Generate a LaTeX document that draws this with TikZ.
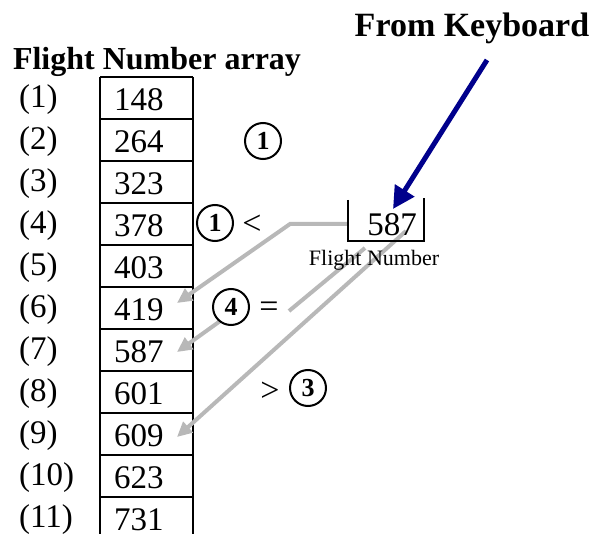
\documentclass[tikz,border=0pt]{standalone}
\usepackage{fontspec}
\setmainfont{Liberation Serif}
\usetikzlibrary{arrows.meta}
\definecolor{arrgray}{RGB}{184,184,184}
\definecolor{kbblue}{RGB}{0,0,140}
\begin{document}
\begin{tikzpicture}[x=1pt,y=-1pt,
  cell/.style={anchor=west,inner sep=0pt,font=\fontsize{33}{33}\selectfont},
  idx/.style={anchor=west,inner sep=0pt,font=\fontsize{33}{33}\selectfont},
  circnum/.style={circle,draw,line width=2pt,fill=white,minimum size=36pt,inner sep=0pt,font=\fontsize{26}{26}\selectfont\bfseries},
  sym/.style={inner sep=0pt,font=\fontsize{34}{34}\selectfont},
  garrow/.style={draw=arrgray,line width=4pt,-{Triangle[length=15pt,width=14pt,fill=arrgray]}},
  gline/.style={draw=arrgray,line width=4pt},
  tbl/.style={line width=2.2pt}]
\useasboundingbox (0,0) rectangle (596,534);
% titles
\node[anchor=base,inner sep=0pt,font=\fontsize{32}{32}\selectfont\bfseries] (title) at (157,70) {Flight Number array};
\node[anchor=base,inner sep=0pt,font=\fontsize{34}{34}\selectfont\bfseries] (kb) at (472,37) {From Keyboard};
% table
\draw[tbl] (100,77) -- (100,540);
\draw[tbl] (193,77) -- (193,540);
\foreach \k in {0,...,10} {\draw[tbl] (100,77+42*\k) -- (193,77+42*\k);}
\foreach \v [count=\i] in {148,264,323,378,403,419,587,601,609,623,731} {
  \node[cell] (v\i) at (114,100+42*\i-42) {\v};
  \node[idx] (i\i) at (19,100+42*\i-42) {(\i)};
}
% gray arrows
\coordinate (t6) at (177,303);
\coordinate (t7) at (177,352);
\coordinate (t9) at (177,437);
\coordinate (a1s) at (348,224);
\coordinate (a1b) at (290,224);
\coordinate (a2s) at (365,248);
\coordinate (a2e) at (289,311);
\coordinate (a2m) at (230,314);
\coordinate (a3s) at (406,231);
\draw[garrow] (a1s) -- (a1b) -- (t6);
\draw[gline] (a2s) -- (a2e);
\draw[garrow] (a2m) -- (t7);
\draw[garrow] (a3s) -- (t9);
% circled numbers and symbols
\node[circnum] (c1a) at (263,141) {1};
\node[circnum] (c1b) at (215,223) {1};
\node[sym] (lt) at (252,225) {<};
\node[circnum] (c4) at (231,307) {4};
\node[sym] (eq) at (269,310) {=};
\node[sym] (gt) at (270,392) {>};
\node[circnum] (c3) at (308,388) {3};
% input box
\draw[tbl] (348,200) -- (348,241) -- (424,241) -- (424,198);
\node[inner sep=0pt,font=\fontsize{33}{33}\selectfont] (in) at (392,225) {587};
\node[inner sep=0pt,font=\fontsize{22}{22}\selectfont] (fn) at (374,260) {Flight Number};
% blue arrow
\coordinate (kbs) at (487,60);
\coordinate (kbt) at (393,209);
\draw[draw=kbblue,line width=5pt,-{Triangle[length=22pt,width=22pt,fill=kbblue]}] (kbs) -- (kbt);
\end{tikzpicture}
\end{document}
